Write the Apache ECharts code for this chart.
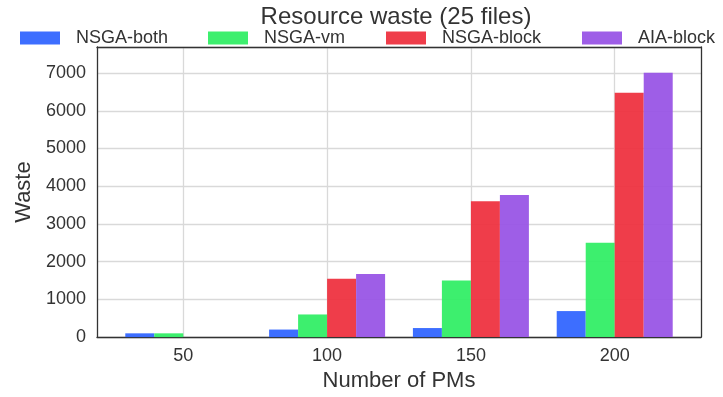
<!DOCTYPE html>
<html>
<head>
<meta charset="utf-8">
<script src="https://cdn.jsdelivr.net/npm/echarts@6/dist/echarts.min.js"></script>
<style>html,body{margin:0;padding:0;background:#fff;}#c{width:723px;height:397px;}</style>
</head>
<body>
<div id="c"></div>
<script>
const categories = [50, 100, 150, 200];
const seriesNames = ['NSGA-both', 'NSGA-vm', 'NSGA-block', 'AIA-block'];
const nsgaBoth = [100, 200, 240, 690];
const nsgaVm = [100, 600, 1500, 2500];
const nsgaBlock = [0, 1550, 3600, 6480];
const aiaBlock = [0, 1670, 3770, 7010];
const yTicks = [0, 1000, 2000, 3000, 4000, 5000, 6000, 7000];

const colors = ['#3366ff', '#33ee66', '#ee3340', '#9955e6'];
const allValues = [nsgaBoth, nsgaVm, nsgaBlock, aiaBlock];
const font = 'Liberation Sans, Arial, sans-serif';
const legendLefts = [15, 203, 381, 577];
const frameLine = {show: true, onZero: false, lineStyle: {color: '#333', width: 1.3}};

const chart = echarts.init(document.getElementById('c'), null, {renderer: 'canvas'});
const option = {
  animation: false,
  backgroundColor: '#fff',
  textStyle: {fontFamily: font},
  title: {
    text: 'Resource waste (25 files)',
    left: 391, top: 0, textAlign: 'center',
    textStyle: {fontFamily: font, fontSize: 24, fontWeight: 'normal', color: '#333'}
  },
  legend: seriesNames.map((n, i) => ({
    data: [n], left: legendLefts[i], top: 24,
    itemWidth: 40, itemHeight: 13, icon: 'rect', selectedMode: false,
    textStyle: {fontFamily: font, fontSize: 18, color: '#333', padding: [0, 0, 0, 11]}
  })),
  grid: {left: 97, right: 22, top: 47, bottom: 56, show: false},
  xAxis: [{
    type: 'value', min: 20, max: 230,
    name: 'Number of PMs', nameLocation: 'middle', nameGap: 28,
    nameTextStyle: {fontFamily: font, fontSize: 22, color: '#333'},
    axisLine: frameLine,
    axisTick: {show: false, customValues: categories},
    axisLabel: {customValues: categories, fontFamily: font, fontSize: 18, color: '#333', margin: 10},
    splitLine: {show: true, lineStyle: {color: '#d9d9d9', width: 1.3}}
  }, {
    type: 'value', min: 20, max: 230, position: 'top',
    axisLine: frameLine, axisTick: {show: false}, axisLabel: {show: false}, splitLine: {show: false}
  }],
  yAxis: [{
    type: 'value', min: 0, max: 7690, interval: 1000,
    name: 'Waste', nameLocation: 'middle', nameGap: 58,
    nameTextStyle: {fontFamily: font, fontSize: 22, color: '#333'},
    axisLine: frameLine,
    axisTick: {show: false},
    axisLabel: {fontFamily: font, fontSize: 18, color: '#333', margin: 11, showMaxLabel: false,
      formatter: v => (yTicks.indexOf(v) >= 0 ? String(v) : '')},
    splitLine: {show: true, lineStyle: {color: '#d9d9d9', width: 1.3}}
  }, {
    type: 'value', min: 0, max: 7690, position: 'right',
    axisLine: frameLine, axisTick: {show: false}, axisLabel: {show: false}, splitLine: {show: false}
  }],
  series: seriesNames.map((n, i) => ({
    name: n, type: 'bar', barWidth: 29, barGap: '0%',
    xAxisIndex: 0, yAxisIndex: 0,
    itemStyle: {color: colors[i], opacity: 0.95},
    data: categories.map((c, j) => [c, allValues[i][j]])
  }))
};
chart.setOption(option);
</script>
</body>
</html>
